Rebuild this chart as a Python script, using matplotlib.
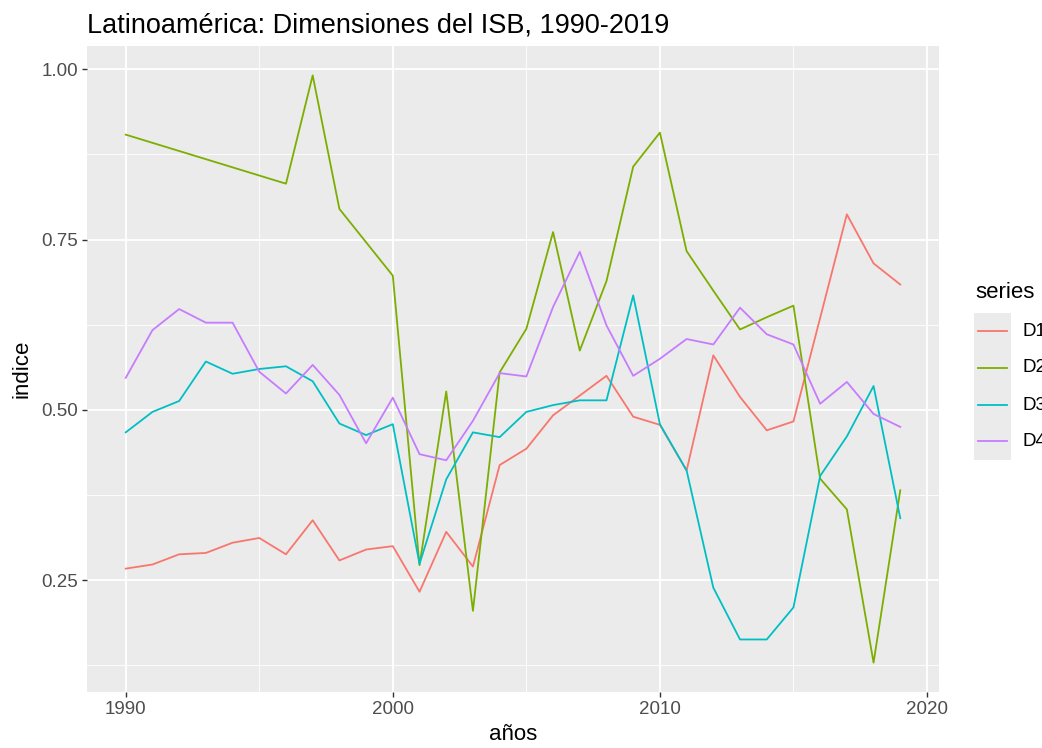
import numpy as np
import matplotlib
matplotlib.use('Agg')
import matplotlib.pyplot as plt
from matplotlib.lines import Line2D
from matplotlib.patches import Rectangle

plt.rcParams['font.family'] = ['Liberation Sans', 'DejaVu Sans']

years = list(range(1990, 2020))

d1 = [0.267, 0.273, 0.288, 0.290, 0.305, 0.312, 0.288, 0.338, 0.279, 0.295,
      0.300, 0.233, 0.321, 0.270, 0.419, 0.443, 0.492, 0.521, 0.550, 0.490,
      0.478, 0.411, 0.580, 0.519, 0.470, 0.483, 0.635, 0.787, 0.715, 0.684]
d2 = [0.904, 0.892, 0.880, 0.868, 0.856, 0.844, 0.832, 0.991, 0.795, 0.746,
      0.697, 0.272, 0.527, 0.205, 0.555, 0.619, 0.761, 0.587, 0.689, 0.857,
      0.907, 0.733, 0.675, 0.618, 0.636, 0.653, 0.399, 0.354, 0.129, 0.382]
d3 = [0.467, 0.497, 0.513, 0.571, 0.553, 0.560, 0.564, 0.542, 0.480, 0.463,
      0.479, 0.274, 0.398, 0.467, 0.460, 0.497, 0.507, 0.514, 0.514, 0.668,
      0.479, 0.411, 0.239, 0.163, 0.163, 0.210, 0.403, 0.461, 0.535, 0.341]
d4 = [0.547, 0.617, 0.648, 0.628, 0.628, 0.556, 0.524, 0.566, 0.522, 0.451,
      0.518, 0.435, 0.426, 0.484, 0.554, 0.549, 0.651, 0.732, 0.624, 0.550,
      0.575, 0.604, 0.596, 0.650, 0.611, 0.596, 0.509, 0.541, 0.494, 0.475]

series = ['D1', 'D2', 'D3', 'D4']
values = [d1, d2, d3, d4]
colors = ['#F8766D', '#7CAE00', '#00BFC4', '#C77CFF']

fig = plt.figure(figsize=(10.42, 7.48), dpi=100)
ax = fig.add_axes([87/1042, 1 - 692/748, (939 - 87)/1042, (692 - 46)/748])
ax.set_facecolor('#EBEBEB')

for name, vals, col in zip(series, values, colors):
    ax.plot(years, vals, color=col, linewidth=1.3, label=name, zorder=3)

# ggplot-like 5% expansion on both axes
allv = np.concatenate(values)
xr = years[-1] - years[0]
yr = allv.max() - allv.min()
ax.set_xlim(years[0] - 0.05*xr, years[-1] + 0.05*xr)
ax.set_ylim(allv.min() - 0.05*yr, allv.max() + 0.05*yr)

ax.set_xticks([1990, 2000, 2010, 2020])
ax.set_xticks([1995, 2005, 2015], minor=True)
ax.set_yticks([0.25, 0.50, 0.75, 1.00])
ax.set_yticklabels(['0.25', '0.50', '0.75', '1.00'])
ax.set_yticks([0.125, 0.375, 0.625, 0.875], minor=True)
ax.grid(which='major', color='white', linewidth=1.3)
ax.grid(which='minor', color='white', linewidth=0.6)
ax.set_axisbelow(True)
for s in ax.spines.values():
    s.set_visible(False)
ax.tick_params(which='major', length=3.5, width=1.0, color='#333333',
               labelsize=13.5, labelcolor='#4D4D4D', pad=3)
ax.tick_params(which='minor', length=0)

ax.set_xlabel('años', fontsize=16, labelpad=4)
ax.set_ylabel('indice', fontsize=16, labelpad=6)
fig.text(87/1042, 1 - 32/748, 'Latinoamérica: Dimensiones del ISB, 1990-2019',
         fontsize=19.5, ha='left', va='baseline')

# legend drawn by hand, ggplot style (grey key background)
fig.text(975/1042, 1 - 298/748, 'series', fontsize=16, ha='left', va='baseline')
fig.add_artist(Rectangle((974/1042, 1 - 460/748), 37/1042, 147/748,
                         transform=fig.transFigure, facecolor='#EBEBEB',
                         edgecolor='none'))
key_y = [331, 368, 405, 441]
for name, col, ky in zip(series, colors, key_y):
    fig.add_artist(Line2D([978/1042, 1007/1042], [1 - ky/748, 1 - ky/748],
                          transform=fig.transFigure, color=col, linewidth=1.3))
    fig.text(1022/1042, 1 - ky/748, name, fontsize=13.5, ha='left', va='center')

fig.savefig('out.png', dpi=100)
